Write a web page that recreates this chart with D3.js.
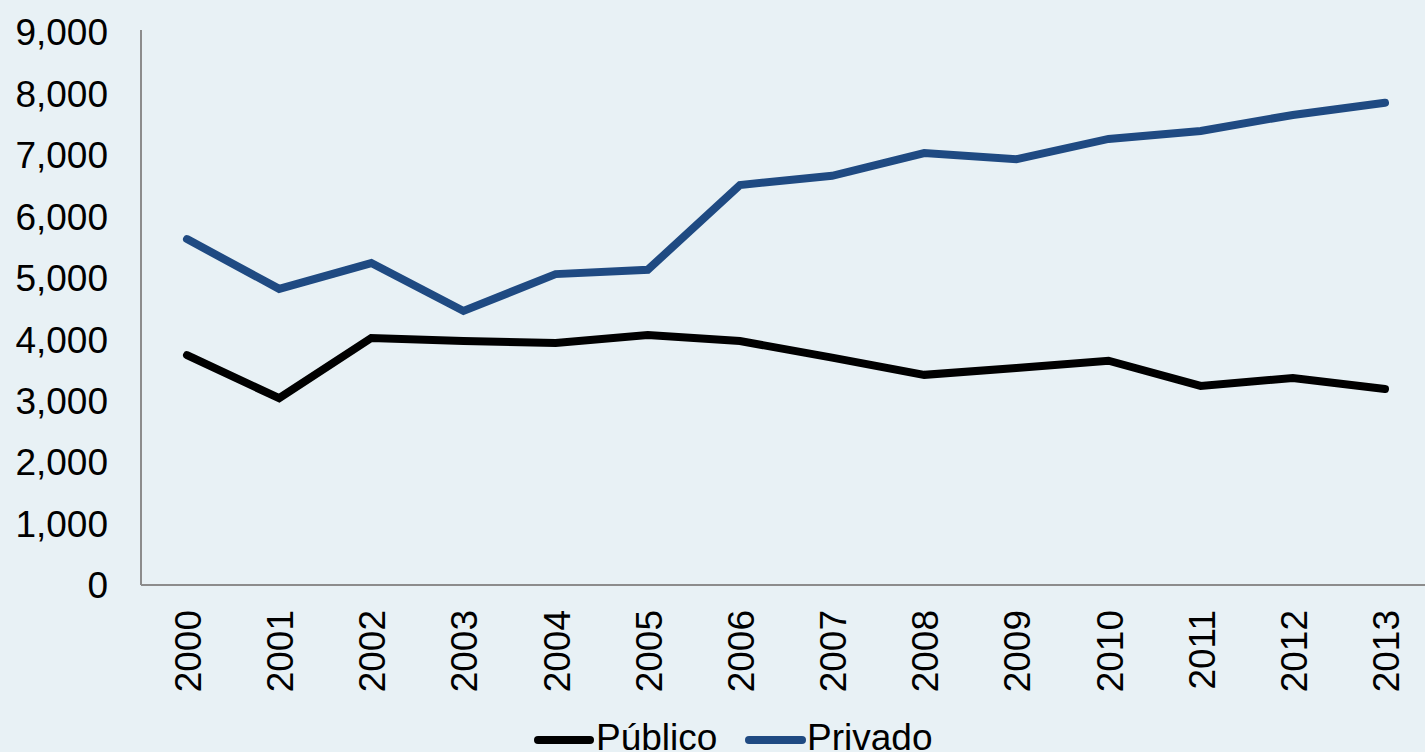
<!DOCTYPE html>
<html><head><meta charset="utf-8">
<script src="https://cdn.jsdelivr.net/npm/d3@7"></script>
<style>
html,body{margin:0;padding:0;background:#e8f1f5;}
svg{display:block;font-family:"Liberation Sans",Arial,sans-serif;}
</style></head><body>
<svg id="c" width="1425" height="752"></svg>
<script>
const years = ["2000","2001","2002","2003","2004","2005","2006","2007","2008","2009","2010","2011","2012","2013"];
const publico = [3740,3040,4020,3970,3940,4070,3970,3700,3420,3530,3650,3240,3370,3190];
const privado = [5630,4820,5240,4460,5060,5130,6510,6660,7030,6930,7260,7390,7650,7850];
const yTicks = [0,1000,2000,3000,4000,5000,6000,7000,8000,9000];
const seriesNames = ["Público","Privado"];
const seriesColors = ["#000000","#1f4a82"];

(function(){
const svg = d3.select("#c");
const pL = 141, pR = 1425, pT = 32, pB = 585;
const fs = 37;
const x = d3.scalePoint().domain(years).range([187, 1385]);
const y = d3.scaleLinear().domain([0, 9000]).range([pB, pT]);

svg.append("line").attr("x1", pL).attr("x2", pL).attr("y1", 30).attr("y2", pB)
  .attr("stroke", "#8c8c8c").attr("stroke-width", 2);
svg.append("line").attr("x1", pL).attr("x2", pR).attr("y1", pB).attr("y2", pB)
  .attr("stroke", "#8c8c8c").attr("stroke-width", 2);

svg.append("g").selectAll("text").data(yTicks).join("text")
  .attr("x", 108).attr("y", d => y(d)).attr("dy", "0.36em")
  .attr("text-anchor", "end").attr("font-size", fs).attr("fill", "#000")
  .text(d => d3.format(",")(d));

svg.append("g").selectAll("text").data(years).join("text")
  .attr("transform", d => `translate(${x(d)+14},610) rotate(-90)`)
  .attr("text-anchor", "end").attr("font-size", fs).attr("fill", "#000")
  .text(d => d);

const line = d3.line().x((d, i) => x(years[i])).y(d => y(d));
[publico, privado].forEach((s, k) => {
  svg.append("path").attr("d", line(s)).attr("fill", "none")
    .attr("stroke", seriesColors[k]).attr("stroke-width", 8)
    .attr("stroke-linecap", "round").attr("stroke-linejoin", "miter");
});

const lg = [{x1:538,x2:590,tx:596},{x1:749,x2:802,tx:807}];
seriesNames.forEach((n, k) => {
  svg.append("line").attr("x1", lg[k].x1).attr("x2", lg[k].x2).attr("y1", 740).attr("y2", 740)
    .attr("stroke", seriesColors[k]).attr("stroke-width", 8).attr("stroke-linecap", "round");
  svg.append("text").attr("x", lg[k].tx).attr("y", 750).attr("font-size", fs).attr("fill", "#000").text(n);
});
})();
</script>
</body></html>
